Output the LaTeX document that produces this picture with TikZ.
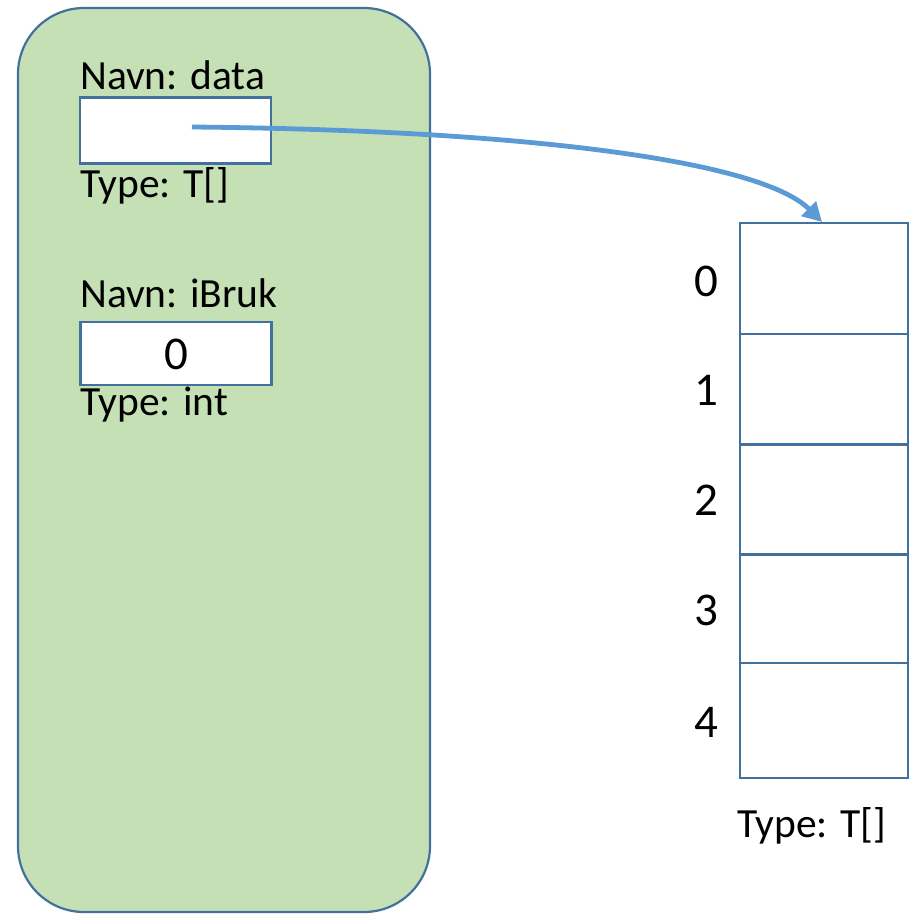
\documentclass[tikz,border=0pt]{standalone}
\usepackage{fontspec}
\setmainfont{Carlito}
\usetikzlibrary{arrows.meta}
\definecolor{outl}{HTML}{41719C}
\definecolor{greenfill}{HTML}{C5E0B4}
\definecolor{arrowblue}{HTML}{5B9BD5}
\tikzset{
  every node/.style={font=\fontsize{41.5}{50}\selectfont, inner sep=0pt},
  frame/.style={draw=outl, fill=greenfill, line width=2.2pt, rounded corners=66pt, minimum width=412pt, minimum height=904pt},
  varbox/.style={draw=outl, fill=white, line width=2.2pt, minimum width=191pt, minimum height=66pt},
  cell/.style={draw=outl, fill=white, line width=2.2pt, minimum width=168pt, minimum height=111pt},
  lbl/.style={anchor=base west},
  idx/.style={anchor=base, font=\fontsize{47}{56}\selectfont},
  ptr/.style={draw=arrowblue, line width=4.8pt, -{Triangle[length=19pt,width=20pt]}}
}
\begin{document}
\begin{tikzpicture}[x=1pt,y=-1pt]
\useasboundingbox (0,0) rectangle (920,913);
\node[frame] (frame) at (224,460) {};
\node[lbl] (navndata) at (80,89) {Navn: data};
\node[varbox] (data) at (175.5,130.5) {};
\node[lbl] (typedata) at (80,197) {Type: T[]};
\node[lbl] (navnibruk) at (80,307) {Navn: iBruk};
\node[varbox, minimum height=63pt] (ibruk) at (176,353.5) {};
\node[idx] (zero) at (176,369) {0};
\node[lbl] (typeint) at (80,415) {Type: int};
\node[cell] (c0) at (824,278.5) {};
\node[cell] (c1) at (824,389.5) {};
\node[cell] (c2) at (824,500) {};
\node[cell] (c3) at (824,610) {};
\node[cell, minimum height=115pt] (c4) at (824,720.5) {};
\node[idx] (i0) at (706,296) {0};
\node[idx] (i1) at (706,405) {1};
\node[idx] (i2) at (706,515) {2};
\node[idx] (i3) at (706,625) {3};
\node[idx] (i4) at (706,737) {4};
\node[lbl] (typearr) at (737,837) {Type: T[]};
\coordinate (s) at (192,127);
\coordinate (e) at (822,222);
\draw[ptr] (s) .. controls (520,130) and (760,160) .. (e);
\end{tikzpicture}
\end{document}
